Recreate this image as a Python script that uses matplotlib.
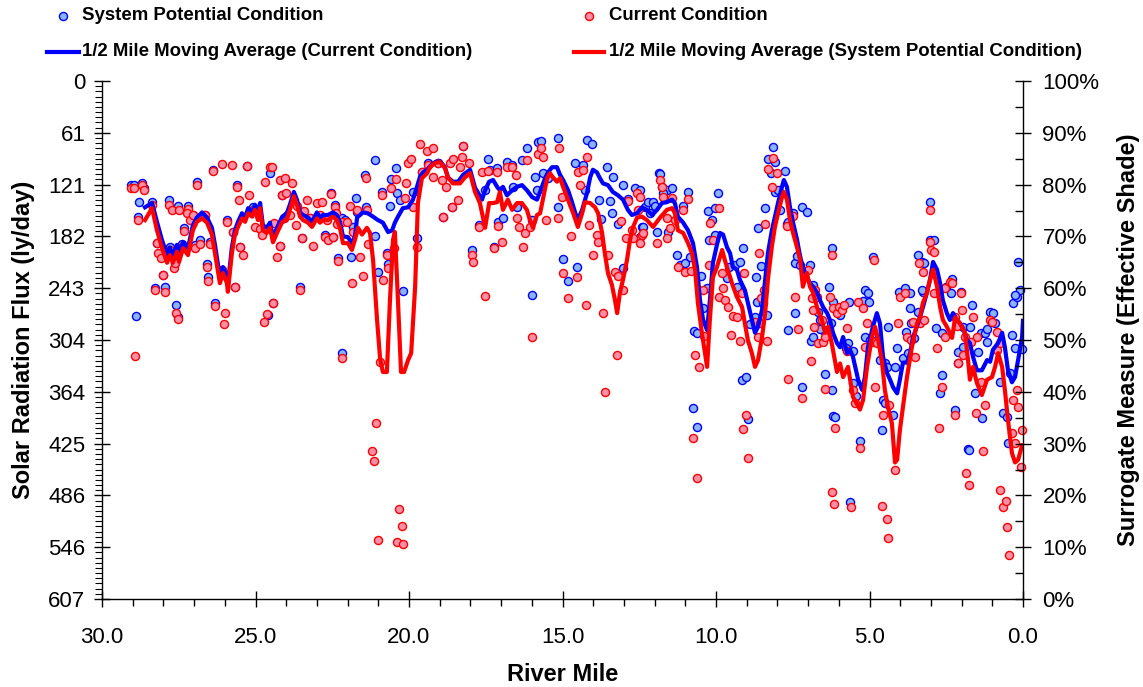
import numpy as np
import matplotlib
matplotlib.use("Agg")
import matplotlib.pyplot as plt
from matplotlib.ticker import MultipleLocator, FixedLocator, FuncFormatter

plt.rcParams['font.family'] = ['Liberation Sans', 'DejaVu Sans']

# ---------------- data ----------------
# System Potential Condition (blue points): river mile, flux (ly/day)
sp_mile = [29.06, 28.96, 28.70, 28.63, 28.79, 28.83, 28.89, 28.37, 28.21, 28.27, 28.01, 27.95, 27.82, 27.79,
           27.59, 27.52, 27.62, 27.52, 27.39, 27.33, 27.20, 27.04, 26.97, 26.91, 26.81, 26.64, 26.58, 26.55,
           26.48, 26.38, 26.32, 26.09, 25.93, 25.73, 25.67, 25.60, 25.50, 25.28, 25.08, 24.59, 24.53, 24.43,
           24.14, 24.20, 24.07, 23.55, 23.49, 23.22, 22.74, 22.54, 22.48, 22.41, 22.31, 22.18, 22.08, 21.89,
           21.73, 21.69, 21.82, 22.18, 21.43, 21.40, 21.11, 21.11, 21.01, 20.88, 20.72, 20.70, 20.62, 20.59,
           20.42, 20.39, 20.29, 20.20, 19.87, 19.74, 19.58, 19.38, 19.06, 18.89, 18.60, 18.24, 17.95, 17.72,
           17.52, 17.43, 17.36, 17.23, 17.13, 17.10, 16.94, 16.81, 16.64, 16.61, 16.48, 16.32, 16.16, 15.99,
           15.99, 15.90, 15.83, 15.80, 15.70, 15.64, 15.47, 15.15, 15.15, 14.98, 14.82, 14.59, 14.53, 14.33,
           14.27, 14.20, 14.04, 13.81, 13.75, 13.55, 13.45, 13.39, 13.36, 13.19, 13.03, 13.03, 12.87, 12.64,
           12.41, 12.31, 12.21, 12.15, 12.05, 11.99, 11.92, 11.86, 11.76, 11.56, 11.60, 12.48, 12.48, 12.38,
           11.82, 11.73, 11.43, 11.27, 11.17, 11.07, 11.01, 10.91, 10.85, 10.72, 10.62, 10.75, 10.62, 10.49,
           10.42, 10.29, 10.26, 10.23, 10.13, 10.03, 10.03, 9.93, 9.64, 9.58, 9.38, 9.32, 9.22, 9.12, 9.15,
           9.02, 8.96, 8.89, 8.73, 8.70, 8.66, 8.53, 8.47, 8.34, 8.63, 8.40, 8.31, 8.21, 8.14, 8.08, 8.08,
           7.98, 7.92, 7.75, 7.69, 7.65, 7.49, 7.43, 7.36, 7.26, 7.20, 7.04, 6.94, 6.84, 6.68, 6.61, 6.51,
           6.32, 6.25, 6.22, 6.19, 5.96, 5.70, 5.67, 5.54, 5.15, 5.05, 4.89, 4.76, 4.66, 4.50, 4.43, 4.40,
           4.17, 4.04, 3.84, 3.68, 3.66, 3.55, 3.42, 3.29, 3.22, 3.26, 3.03, 3.03, 2.90, 2.83, 2.64, 2.51,
           2.31, 2.35, 2.12, 2.02, 1.95, 1.73, 1.66, 1.37, 1.24, 1.07, 0.98, 0.91, 1.17, 0.36, 0.33, 0.20,
           0.10, 0.16, 0.26, 0.02,
           7.65, 7.43, 7.20, 6.91, 6.84, 6.61, 6.45, 6.22, 6.19, 6.12, 5.77, 5.64, 5.54, 5.44, 5.31, 5.21,
           5.15, 5.02, 4.98, 4.59, 4.56, 4.50, 4.23, 4.10, 3.91, 3.81, 3.75, 3.68, 3.42, 3.29, 2.70, 2.64,
           2.21, 2.12, 1.95, 1.79, 1.76, 1.56, 1.47, 1.34, 1.17, 0.75, 0.65, 0.52, 0.50, 0.42, 0.26]
sp_flux = [122, 122, 120, 125, 142, 159, 275, 142, 190, 243, 227, 241, 139, 195,
           262, 277, 213, 146, 191, 172, 146, 157, 192, 118, 186, 157, 214, 230,
           189, 104, 260, 221, 163, 177, 241, 122, 195, 100, 148, 274, 108, 260,
           134, 193, 161, 241, 184, 161, 180, 131, 183, 145, 207, 161, 163, 206,
           137, 154, 171, 319, 110, 148, 93, 182, 224, 130, 202, 214, 146, 115,
           102, 131, 139, 246, 130, 184, 107, 96, 96, 159, 148, 76, 198, 169,
           128, 91, 104, 195, 102, 165, 161, 95, 98, 124, 148, 93, 79, 163,
           251, 112, 128, 71, 70, 108, 114, 67, 148, 209, 234, 96, 218, 98,
           128, 69, 74, 139, 162, 101, 141, 155, 112, 168, 219, 122, 138, 125,
           171, 148, 142, 155, 142, 146, 177, 108, 124, 177, 128, 128, 183, 171,
           109, 131, 125, 204, 216, 146, 213, 130, 206, 293, 295, 383, 405, 228,
           266, 243, 152, 186, 163, 149, 180, 131, 231, 218, 216, 241, 212, 196, 350,
           347, 396, 285, 277, 230, 259, 217, 260, 274, 172, 149, 91, 108, 77, 95, 130,
           128, 151, 105, 168, 165, 155, 213, 205, 216, 148, 154, 216, 239, 271, 280, 292,
           241, 284, 196, 259, 274, 307, 259, 316, 245, 248, 206, 303, 327, 330, 335, 288,
           335, 247, 243, 266, 284, 301, 204, 212, 213, 247, 142, 186, 186, 289, 295, 241,
           232, 248, 318, 247, 288, 288, 262, 295, 295, 271, 272, 284, 306, 298, 260, 253,
           245, 212, 313, 314,
           292, 272, 359, 305, 300, 291, 343, 362, 393, 394, 313, 493, 354, 369, 422, 258,
           300, 259, 303, 409, 374, 377, 391, 313, 325, 294, 319, 248, 271, 245, 366, 345,
           386, 330, 312, 431, 432, 366, 318, 395, 291, 353, 389, 394, 424, 342, 251]

# Current Condition (red points)
cc_mile = [29.06, 28.96, 28.70, 28.63, 28.83, 28.93, 28.37, 28.21, 28.18, 28.08, 28.27, 28.01, 27.95, 27.82,
           27.72, 27.79, 27.59, 27.52, 27.65, 27.62, 27.49, 27.39, 27.33, 27.20, 27.23, 27.13, 27.04, 26.97,
           26.91, 26.81, 26.64, 26.58, 26.55, 26.48, 26.38, 26.32, 26.09, 26.09, 25.99, 26.03, 25.93, 25.77,
           25.73, 25.67, 25.60, 25.54, 25.50, 25.41, 25.28, 25.21, 25.08, 25.02, 24.85, 24.79, 24.69, 24.63,
           24.72, 24.53, 24.46, 24.43, 24.40, 24.30, 24.20, 24.14, 24.04, 24.01, 24.20, 24.07, 23.88, 23.81,
           23.65, 23.68, 23.55, 23.49, 23.42, 23.32, 23.22, 23.13, 23.00, 22.90, 22.83, 22.74, 22.67, 22.64,
           22.54, 22.48, 22.41, 22.38, 22.35, 22.31, 22.18, 22.02, 21.92, 21.86, 21.82, 21.69, 21.60, 21.50,
           21.40, 21.37, 21.34, 20.88, 20.85, 20.72, 20.70, 20.59, 20.49, 20.42, 20.13, 20.10, 20.03, 19.93,
           19.87, 19.74, 19.64, 19.58, 19.41, 19.38, 19.22, 19.22, 19.06, 18.93, 18.89, 18.79, 18.66, 18.57,
           18.60, 18.40, 18.27, 18.24, 18.34, 18.05, 17.95, 17.92, 17.72, 17.62, 17.52, 17.43, 17.23, 17.13,
           17.10, 16.97, 16.81, 16.64, 16.51, 16.48, 16.42, 16.16, 16.29, 16.22, 16.06, 15.99, 15.80, 15.70,
           15.64, 15.54, 15.11, 15.15, 15.02, 14.98, 14.82, 14.72, 14.53, 14.50, 14.43, 14.33, 14.23, 14.20,
           14.14, 14.01, 13.88, 13.84, 13.68, 13.52, 13.29, 13.19, 13.09, 13.03, 12.93, 12.87, 12.74, 12.70,
           12.57, 12.54, 12.41, 12.48, 12.48, 12.38, 11.92, 11.82, 11.76, 11.73, 11.60, 11.58, 11.50, 11.43,
           11.34, 11.24, 11.07, 11.01, 10.91, 10.81, 10.68, 10.55, 10.75, 10.62, 10.42, 10.39, 10.23, 10.20,
           10.10, 9.90, 9.90, 9.80, 9.77, 9.71, 9.61, 9.51, 9.45, 9.32, 9.22, 9.15, 9.09, 9.12, 9.02, 8.96,
           8.73, 8.63, 8.60, 8.57, 8.53, 8.44, 8.34, 8.40, 8.31, 8.18, 8.14, 8.01, 7.69, 7.49, 7.65, 7.43,
           7.33, 7.20, 7.00, 6.87, 6.84, 6.78, 6.71, 6.91, 6.81, 6.68, 6.55, 6.51, 6.45, 6.45, 6.29, 6.22,
           6.19, 6.22, 6.16, 6.12, 6.06, 5.99, 5.90, 5.83, 5.73, 5.73, 5.60, 5.54, 5.47, 5.37, 5.31, 5.21,
           5.15, 5.08, 4.89, 4.85, 4.82, 4.76, 4.59, 4.56, 4.43, 4.40, 4.36, 4.17, 4.07, 4.01, 3.84, 3.78,
           3.58, 3.65, 3.52, 3.39, 3.36, 3.26, 3.24, 3.03, 3.03, 3.00, 2.90, 2.90, 2.80, 2.74, 2.64, 2.54,
           2.54, 2.38, 2.31, 2.21, 2.21, 2.15, 2.12, 2.02, 1.99, 1.95, 1.89, 1.86, 1.76, 1.69, 1.63, 1.53,
           1.50, 1.37, 1.30, 1.24, 1.07, 1.01, 0.85, 0.85, 0.75, 0.75, 0.65, 0.55, 0.52, 0.46, 0.36, 0.33,
           0.26, 0.20, 0.16, 0.03, 0.05,
           22.18, 20.94, 21.07, 21.21, 21.14, 20.33, 20.23, 21.01, 20.39, 20.20, 13.22, 13.62]
cc_flux = [125, 125, 122, 128, 163, 322, 145, 190, 202, 207, 245, 227, 247, 145,
           151, 198, 272, 279, 219, 213, 151, 195, 176, 150, 155, 163, 157, 196,
           122, 191, 157, 218, 234, 191, 105, 264, 97, 221, 272, 285, 165, 98,
           177, 241, 124, 139, 195, 204, 100, 134, 151, 171, 173, 180, 118, 273,
           282, 101, 101, 260, 166, 206, 116, 134, 114, 131, 193, 161, 157, 120,
           146, 169, 245, 184, 152, 139, 161, 193, 143, 157, 142, 183, 163, 186,
           132, 183, 148, 155, 168, 211, 165, 165, 146, 237, 177, 151, 206, 228,
           114, 151, 191, 134, 233, 204, 219, 125, 196, 115, 137, 120, 96, 91,
           148, 195, 74, 107, 82, 98, 79, 112, 96, 116, 159, 124, 96, 91,
           148, 139, 89, 76, 101, 96, 204, 212, 171, 107, 252, 105, 196, 107,
           170, 189, 101, 101, 110, 161, 171, 93, 195, 178, 171, 300, 86, 79,
           89, 163, 79, 161, 136, 225, 254, 182, 230, 107, 122, 104, 262, 89,
           169, 204, 180, 189, 272, 204, 224, 228, 164, 245, 184, 141, 175, 184,
           131, 151, 180, 136, 190, 178, 190, 116, 124, 136, 161, 184, 172, 137,
           163, 218, 151, 224, 138, 223, 321, 335, 418, 465, 245, 299, 216, 166,
           186, 149, 253, 225, 243, 257, 265, 298, 275, 277, 305, 248, 225, 408, 391, 442,
           282, 300, 202, 284, 254, 245, 305, 168, 103, 124, 90, 108, 170, 158, 349, 253,
           291, 371, 221, 254, 268, 245, 253, 328, 288, 307, 280, 306, 300, 361, 253, 204,
           266, 482, 496, 407, 272, 265, 268, 262, 289, 316, 499, 362, 377, 259, 430, 266,
           312, 284, 306, 210, 359, 307, 498, 391, 513, 536, 380, 456, 284, 253, 248, 300,
           282, 304, 323, 213, 284, 224, 280, 151, 189, 198, 200, 248, 313, 407, 359, 300,
           243, 236, 237, 277, 391, 287, 330, 248, 268, 321, 300, 459, 473, 306, 277, 389,
           300, 353, 434, 380, 280, 282, 294, 315, 307, 479, 499, 492, 523, 555, 412, 374,
           424, 362, 382, 409, 452,
           325, 329, 401, 434, 445, 502, 521, 538, 540, 543, 321, 364]

# 1/2 mile moving average (Current Condition) - blue line
ma_cc_mile = [28.60, 28.37, 28.21, 28.05, 27.88, 27.79, 27.69, 27.56, 27.49, 27.36, 27.20, 27.04, 26.91, 26.74,
              26.58, 26.42, 26.32, 26.22, 26.16, 26.06, 25.93, 25.90, 25.77, 25.67, 25.57, 25.44, 25.34, 25.24,
              25.11, 25.02, 24.92, 24.85, 24.76, 24.63, 24.53, 24.43, 24.30, 24.14, 23.97, 23.88, 23.75, 23.65,
              23.55, 23.45, 23.29, 23.16, 23.00, 22.90, 22.80, 22.64, 22.48, 22.35, 22.25, 22.15, 21.99, 21.86,
              21.76, 21.69, 21.50, 21.34, 21.17, 21.01, 20.85, 20.68, 20.55, 20.46, 20.36, 20.20, 20.03, 19.87,
              19.74, 19.64, 19.54, 19.41, 19.32, 19.15, 18.99, 18.83, 18.73, 18.57, 18.40, 18.24, 18.01, 17.85,
              17.75, 17.62, 17.52, 17.39, 17.26, 17.13, 17.04, 16.94, 16.81, 16.64, 16.48, 16.32, 16.16, 15.99,
              15.83, 15.73, 15.57, 15.47, 15.34, 15.18, 15.08, 14.98, 14.82, 14.69, 14.59, 14.50, 14.36, 14.20,
              14.10, 14.01, 13.88, 13.78, 13.68, 13.52, 13.36, 13.19, 13.03, 12.87, 12.74, 12.57, 12.41, 12.25,
              12.08, 11.92, 11.76, 11.60, 11.43, 11.34, 11.24, 11.07, 10.91, 10.75, 10.62, 10.52, 10.42, 10.29,
              10.20, 10.10, 9.97, 9.87, 9.77, 9.64, 9.54, 9.45, 9.32, 9.22, 9.06, 8.96, 8.83, 8.73, 8.63, 8.50,
              8.40, 8.31, 8.18, 8.08, 7.98, 7.85, 7.79, 7.69, 7.59, 7.49, 7.36, 7.26, 7.17, 7.04, 6.94, 6.84,
              6.71, 6.61, 6.51, 6.38, 6.29, 6.19, 6.06, 5.96, 5.86, 5.73, 5.64, 5.54, 5.37, 5.24, 5.15, 5.05,
              4.89, 4.76, 4.66, 4.56, 4.43, 4.33, 4.23, 4.10, 4.01, 3.91, 3.78, 3.68, 3.58, 3.42, 3.26, 3.13,
              3.03, 2.93, 2.80, 2.70, 2.61, 2.48, 2.38, 2.28, 2.15, 2.05, 1.95, 1.82, 1.73, 1.63, 1.50, 1.34,
              1.17, 1.07, 0.98, 0.81, 0.68, 0.59, 0.49, 0.36, 0.26, 0.16, 0.03, 0.00]
ma_cc_flux = [148, 143, 165, 186, 204, 195, 204, 192, 200, 189, 196, 169, 160, 154,
              160, 172, 192, 216, 230, 218, 230, 239, 195, 175, 165, 155, 160, 149,
              154, 145, 157, 143, 169, 172, 166, 183, 172, 160, 154, 145, 130, 139,
              154, 157, 160, 165, 154, 160, 157, 157, 154, 157, 165, 182, 183, 190,
              182, 160, 154, 155, 159, 163, 166, 177, 175, 166, 159, 149, 148, 139,
              124, 112, 107, 104, 100, 95, 94, 101, 113, 118, 118, 110, 104, 125,
              131, 139, 128, 118, 116, 124, 128, 124, 134, 128, 124, 122, 128, 136,
              139, 130, 114, 107, 101, 101, 110, 116, 128, 142, 154, 163, 151, 131,
              113, 104, 107, 114, 120, 122, 130, 134, 139, 151, 157, 155, 148, 151,
              157, 151, 143, 142, 139, 143, 159, 166, 175, 190, 218, 257, 280, 292,
              257, 213, 192, 178, 180, 195, 202, 218, 221, 233, 245, 260, 280, 295, 288, 268,
              233, 202, 175, 159, 143, 124, 116, 124, 148, 166, 186, 206, 218, 230, 237, 241,
              248, 257, 265, 272, 280, 295, 307, 312, 300, 319, 315, 323, 350, 362, 347, 312,
              288, 272, 284, 323, 342, 350, 359, 366, 350, 330, 330, 319, 300, 284, 265, 248,
              233, 212, 221, 237, 257, 272, 280, 272, 280, 284, 290, 304, 307, 323, 339, 339,
              327, 329, 315, 307, 295, 312, 339, 353, 347, 327, 300, 281]

# 1/2 mile moving average (System Potential Condition) - red line
ma_sp_mile = [28.60, 28.37, 28.21, 28.05, 27.88, 27.79, 27.69, 27.56, 27.49, 27.36, 27.20, 27.04, 26.91, 26.74,
              26.58, 26.42, 26.32, 26.22, 26.16, 26.06, 25.93, 25.90, 25.77, 25.67, 25.57, 25.44, 25.34, 25.24,
              25.11, 25.02, 24.92, 24.85, 24.76, 24.63, 24.53, 24.43, 24.30, 24.14, 23.97, 23.88, 23.75, 23.65,
              23.55, 23.45, 23.29, 23.16, 23.00, 22.90, 22.80, 22.64, 22.48, 22.35, 22.25, 22.15, 21.99, 21.86,
              21.76, 21.66, 21.53, 21.37, 21.27, 21.17, 21.04, 20.94, 20.85, 20.72, 20.62, 20.52, 20.46, 20.36,
              20.26, 20.16, 20.03, 19.93, 19.80, 19.71, 19.58, 19.41, 19.32, 19.15, 18.99, 18.83, 18.73, 18.57,
              18.34, 18.18, 18.01, 17.85, 17.69, 17.52, 17.39, 17.26, 17.13, 17.04, 16.94, 16.78, 16.64, 16.48,
              16.32, 16.16, 16.06, 15.96, 15.83, 15.73, 15.64, 15.50, 15.41, 15.31, 15.18, 15.08, 14.98, 14.85,
              14.76, 14.66, 14.50, 14.36, 14.27, 14.10, 13.94, 13.84, 13.71, 13.62, 13.52, 13.39, 13.29, 13.22,
              13.13, 13.03, 12.90, 12.80, 12.70, 12.57, 12.41, 12.25, 12.05, 11.82, 11.60, 11.43, 11.34, 11.24,
              11.07, 10.91, 10.78, 10.68, 10.59, 10.46, 10.36, 10.29, 10.20, 10.10, 9.97, 9.80, 9.71, 9.61, 9.48,
              9.32, 9.15, 9.06, 8.96, 8.83, 8.73, 8.63, 8.50, 8.40, 8.31, 8.18, 8.08, 7.98, 7.85, 7.79, 7.69,
              7.59, 7.49, 7.36, 7.26, 7.17, 7.04, 6.94, 6.84, 6.71, 6.55, 6.45, 6.35, 6.22, 6.06, 5.96, 5.86,
              5.70, 5.54, 5.31, 5.21, 5.08, 4.92, 4.82, 4.72, 4.59, 4.50, 4.40, 4.27, 4.17, 4.10, 4.01, 3.91,
              3.78, 3.62, 3.45, 3.36, 3.26, 3.13, 3.03, 2.93, 2.80, 2.70, 2.61, 2.48, 2.31, 2.21, 2.05, 1.89,
              1.79, 1.73, 1.63, 1.50, 1.34, 1.17, 1.01, 0.91, 0.81, 0.68, 0.59, 0.49, 0.36, 0.26, 0.16, 0.03]
ma_sp_flux = [163, 149, 175, 195, 213, 204, 213, 200, 212, 196, 204, 175, 165, 161,
              166, 180, 202, 224, 237, 225, 237, 247, 202, 180, 171, 161, 165, 155,
              159, 151, 163, 149, 175, 178, 172, 189, 178, 166, 161, 151, 135, 145,
              159, 163, 166, 171, 161, 166, 163, 163, 159, 163, 172, 190, 190, 198,
              186, 172, 180, 172, 178, 210, 280, 326, 341, 341, 257, 186, 177, 257,
              341, 341, 327, 319, 241, 143, 114, 108, 101, 96, 95, 102, 113, 120,
              120, 113, 108, 130, 143, 172, 143, 143, 142, 130, 151, 139, 151, 143,
              143, 151, 163, 172, 157, 155, 139, 114, 108, 113, 118, 114, 124, 136,
              145, 154, 171, 155, 142, 143, 148, 155, 178, 202, 225, 239, 257, 272,
              248, 233, 210, 186, 171, 160, 159, 163, 171, 160, 151, 149, 155, 175,
              178, 190, 202, 222, 260, 295, 319, 335, 280, 230, 218, 198, 210, 222, 237,
              253, 265, 284, 304, 319, 335, 327, 300, 272, 233, 194, 171, 155, 136, 130, 139,
              163, 178, 195, 210, 241, 225, 241, 248, 265, 280, 295, 288, 309, 341, 331, 347,
              335, 370, 385, 374, 335, 300, 288, 303, 330, 362, 382, 401, 447, 444, 409, 382,
              347, 312, 284, 277, 260, 248, 233, 221, 241, 265, 280, 288, 301, 277, 284, 295,
              327, 350, 335, 354, 368, 350, 347, 335, 319, 335, 362, 397, 436, 447, 444, 427]

flux_tick_labels = ["0", "61", "121", "182", "243", "304", "364", "425", "486", "546", "607"]
flux_max = 607

legend_labels = ["System Potential Condition", "Current Condition",
                 "1/2 Mile Moving Average (Current Condition)",
                 "1/2 Mile Moving Average (System Potential Condition)"]

# ---------------- styling ----------------
BLUE = "#0000ff"
RED = "#ff0000"
BLUE_FILL = "#8ab4ff"
RED_FILL = "#ff8fa6"
W, H = 1143, 687

fig = plt.figure(figsize=(W / 100, H / 100), dpi=100)
ax = fig.add_axes([102 / W, 1 - 599 / H, 921 / W, 518 / H])

ms = 34
ax.scatter(sp_mile, sp_flux, s=ms, facecolor=BLUE_FILL, edgecolor=BLUE, linewidth=1.0, zorder=3, clip_on=False)
ax.scatter(cc_mile, cc_flux, s=ms, facecolor=RED_FILL, edgecolor=RED, linewidth=1.0, zorder=4, clip_on=False)
ax.plot(ma_cc_mile, ma_cc_flux, color=BLUE, linewidth=3.0, zorder=5, solid_joinstyle='round')
ax.plot(ma_sp_mile, ma_sp_flux, color=RED, linewidth=3.0, zorder=6, solid_joinstyle='round')

ax.set_xlim(30, 0)
ax.set_ylim(flux_max, 0)

ax.xaxis.set_major_locator(MultipleLocator(5))
ax.xaxis.set_minor_locator(MultipleLocator(1))
ax.xaxis.set_major_formatter(FuncFormatter(lambda v, p: f"{v:.1f}"))

yt = [flux_max * i / 10 for i in range(11)]
ax.yaxis.set_major_locator(FixedLocator(yt))
ax.set_yticklabels(flux_tick_labels)
ax.yaxis.set_minor_locator(FixedLocator([flux_max * i / 100 for i in range(101)]))

for side in ["top", "right"]:
    ax.spines[side].set_visible(False)
for side in ["left", "bottom"]:
    ax.spines[side].set_linewidth(1.0)

tick_fs = 16
ax.tick_params(axis='x', which='major', direction='inout', length=12, width=1.0, labelsize=tick_fs, pad=14)
ax.tick_params(axis='x', which='minor', direction='out', length=5, width=1.0)
ax.tick_params(axis='y', which='major', direction='inout', length=12, width=1.0, labelsize=tick_fs, pad=6)
ax.tick_params(axis='y', which='minor', direction='out', length=5, width=0.8)

ax2 = ax.twinx()
ax2.set_ylim(0, 100)
for side in ["top", "left", "bottom"]:
    ax2.spines[side].set_visible(False)
ax2.spines["right"].set_linewidth(1.0)
ax2.yaxis.set_major_locator(MultipleLocator(10))
ax2.yaxis.set_minor_locator(MultipleLocator(5))
ax2.yaxis.set_major_formatter(FuncFormatter(lambda v, p: f"{int(round(v))}%"))
ax2.tick_params(axis='y', which='major', direction='inout', length=12, width=1.0, labelsize=tick_fs, pad=8)
ax2.tick_params(axis='y', which='minor', direction='in', length=6, width=1.0)

lab_fs = 17
ax.set_xlabel("River Mile", fontsize=lab_fs, fontweight='bold', labelpad=11)
ax.set_ylabel("Solar Radiation Flux (ly/day)", fontsize=lab_fs, fontweight='bold', labelpad=9)
ax2.set_ylabel("Surrogate Measure (Effective Shade)", fontsize=lab_fs, fontweight='bold', labelpad=13)

# ---------------- legend (figure pixel coordinates) ----------------
lg = fig.add_axes([0, 0, 1, 1], facecolor='none')
lg.set_xlim(0, W)
lg.set_ylim(H, 0)
lg.axis('off')
leg_fs = 13.4
lg.scatter([63], [16], s=ms, facecolor=BLUE_FILL, edgecolor=BLUE, linewidth=1.0)
lg.text(82, 16, legend_labels[0], fontsize=leg_fs, fontweight='bold', va='center', ha='left')
lg.scatter([589], [16], s=ms, facecolor=RED_FILL, edgecolor=RED, linewidth=1.0)
lg.text(609, 16, legend_labels[1], fontsize=leg_fs, fontweight='bold', va='center', ha='left')
lg.plot([47, 79], [52, 52], color=BLUE, linewidth=3.0)
lg.text(82, 52, legend_labels[2], fontsize=leg_fs, fontweight='bold', va='center', ha='left')
lg.plot([574, 604], [52, 52], color=RED, linewidth=3.0)
lg.text(609, 52, legend_labels[3], fontsize=leg_fs, fontweight='bold', va='center', ha='left')

fig.savefig("out.png", dpi=100)
